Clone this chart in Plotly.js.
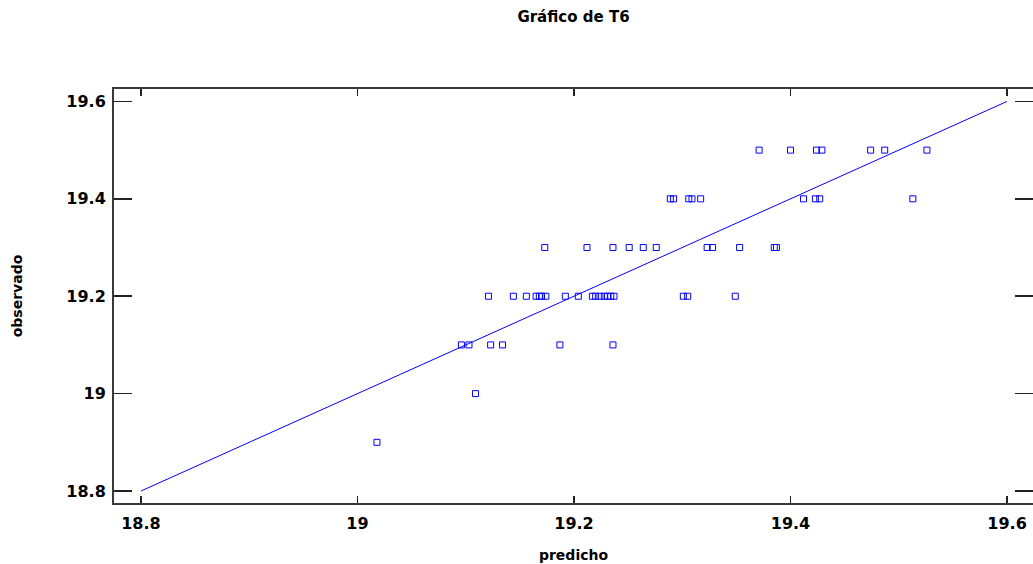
<!DOCTYPE html>
<html>
<head>
<meta charset="utf-8">
<script src="https://cdn.plot.ly/plotly-3.0.1.min.js"></script>
<style>html,body{margin:0;padding:0;background:#fff;}#chart{width:1033px;height:564px;}</style>
</head>
<body>
<div id="chart"></div>
<script>
// Predicted (x) and observed (y) values for T6
const predicho = [
  19.018,
  19.109,
  19.096, 19.103, 19.123, 19.134, 19.187, 19.236,
  19.121, 19.144, 19.156, 19.165, 19.168, 19.170, 19.174, 19.192, 19.204,
  19.217, 19.220, 19.224, 19.228, 19.231, 19.234, 19.237, 19.301, 19.305, 19.349,
  19.173, 19.212, 19.236, 19.251, 19.264, 19.276, 19.323, 19.328, 19.353, 19.385, 19.387,
  19.289, 19.292, 19.306, 19.309, 19.317, 19.412, 19.423, 19.427, 19.513,
  19.371, 19.400, 19.424, 19.429, 19.474, 19.487, 19.526
];
const observado = [
  18.9,
  19.0,
  19.1, 19.1, 19.1, 19.1, 19.1, 19.1,
  19.2, 19.2, 19.2, 19.2, 19.2, 19.2, 19.2, 19.2, 19.2,
  19.2, 19.2, 19.2, 19.2, 19.2, 19.2, 19.2, 19.2, 19.2, 19.2,
  19.3, 19.3, 19.3, 19.3, 19.3, 19.3, 19.3, 19.3, 19.3, 19.3, 19.3,
  19.4, 19.4, 19.4, 19.4, 19.4, 19.4, 19.4, 19.4, 19.4,
  19.5, 19.5, 19.5, 19.5, 19.5, 19.5, 19.5
];
// Reference line observed = predicted
const lineX = [18.8, 19.6];
const lineY = [18.8, 19.6];
const tickVals = [18.8, 19.0, 19.2, 19.4, 19.6];
const tickText = ["18.8", "19", "19.2", "19.4", "19.6"];

const FONT = "'DejaVu Sans', 'Liberation Sans', Arial, sans-serif";
const BLUE = "#0000ff";

const traces = [
  {
    x: lineX, y: lineY, type: "scatter", mode: "lines",
    line: {color: BLUE, width: 1}, hoverinfo: "skip", showlegend: false
  },
  {
    x: predicho, y: observado, type: "scatter", mode: "markers",
    marker: {symbol: "square-open", size: 6, color: BLUE, line: {color: BLUE, width: 1}},
    showlegend: false
  }
];

const axisCommon = {
  tickvals: tickVals, ticktext: tickText,
  showgrid: false, zeroline: false,
  showline: true, linecolor: "#3a3a3a", linewidth: 2,
  ticks: "inside", mirror: "ticks", tickcolor: "#222", tickwidth: 1.5,
  tickfont: {family: FONT, size: 16, color: "#000", weight: "bold"}
};

const layout = {
  width: 1033, height: 564,
  paper_bgcolor: "#fff", plot_bgcolor: "#fff",
  margin: {l: 114, r: 0, t: 89, b: 61, pad: 0},
  title: {
    text: "<b>Gráfico de T6</b>",
    font: {family: FONT, size: 15, color: "#000"},
    x: 0.5, xref: "paper", y: 17, yref: "container", yanchor: "middle"
  },
  xaxis: Object.assign({}, axisCommon, {
    range: [18.7751, 19.6240], ticklen: 7, ticklabelstandoff: 5,
    title: {text: "<b>predicho</b>", font: {family: FONT, size: 14, color: "#000"}, standoff: 18}
  }),
  yaxis: Object.assign({}, axisCommon, {
    range: [18.7754, 19.6255], ticklen: 18, ticklabelstandoff: 3,
    title: {text: "<b>observado</b>", font: {family: FONT, size: 14, color: "#000"}, standoff: 40}
  }),
  showlegend: false
};
layout.title.y = 1 - 17 / 564;

Plotly.newPlot("chart", traces, layout, {displayModeBar: false, staticPlot: true});
</script>
</body>
</html>
